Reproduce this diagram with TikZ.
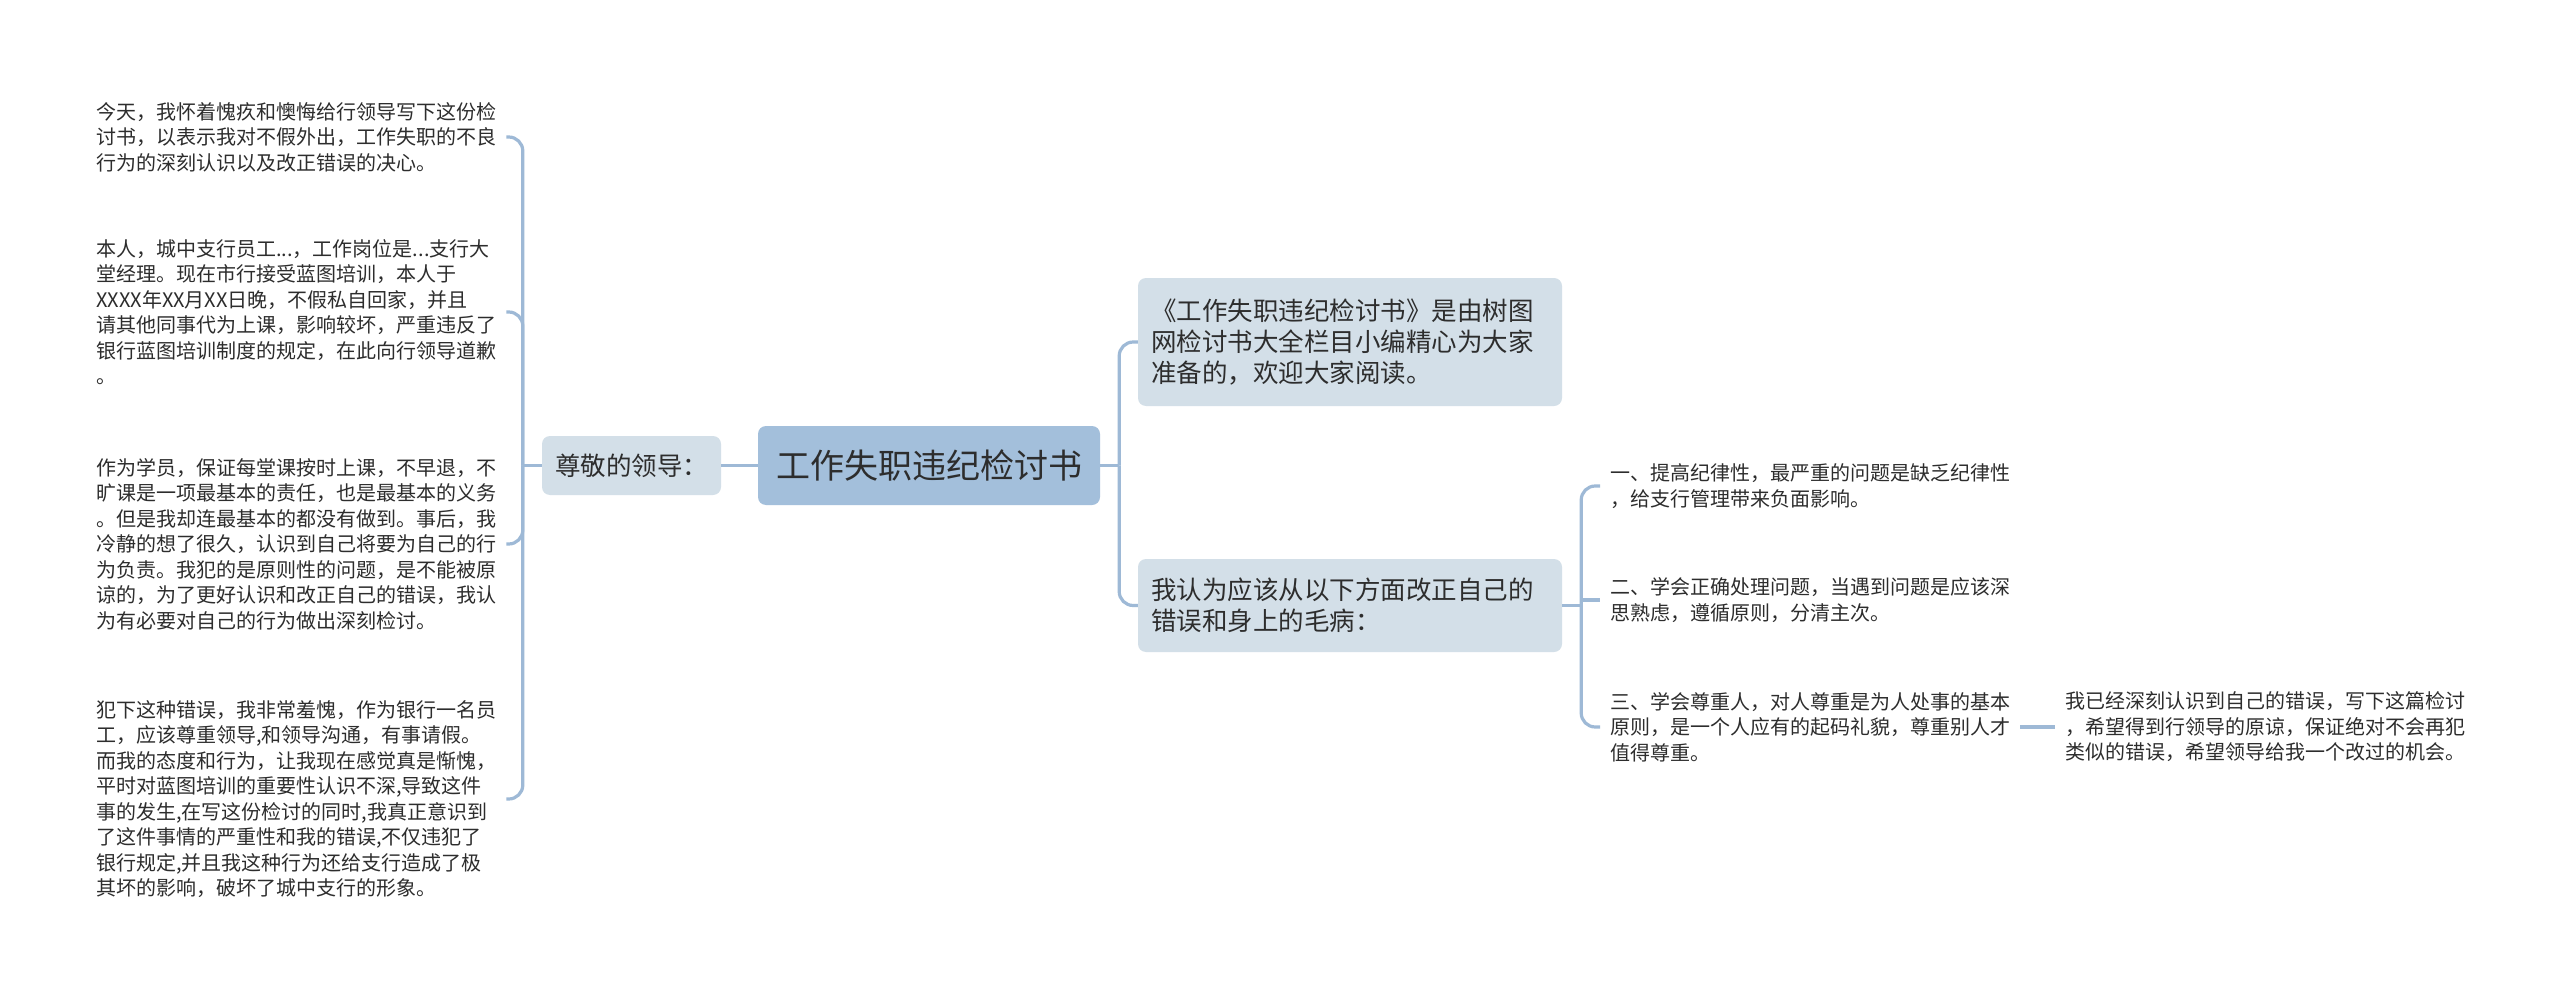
\documentclass[tikz,border=0pt]{standalone}
\usepackage{fontspec}
\setmainfont{Noto Sans CJK SC}
\definecolor{lc}{RGB}{158,185,214}
\definecolor{rootc}{RGB}{163,191,219}
\definecolor{secc}{RGB}{211,223,232}
\definecolor{tc}{RGB}{45,45,45}
\begin{document}
\begin{tikzpicture}[x=1pt,y=-1pt,
  conn/.style={draw=lc, line width=3.2pt},
  rc/.style={rounded corners=14pt},
  leaf/.style={text width=400pt, inner xsep=10pt, inner ysep=0pt, align=left,
    font=\fontsize{20}{25.5}\selectfont, text=tc},
  sec/.style={fill=secc, rounded corners=8pt, align=left,
    font=\fontsize{25.5}{31}\selectfont, text=tc, inner xsep=13pt},
  rootn/.style={fill=rootc, rounded corners=8pt,
    font=\fontsize{34}{40}\selectfont, text=tc}]
\useasboundingbox (0,0) rectangle (2560,995);
\fill[white] (0,0) rectangle (2560,995);

% central and secondary nodes
\node[rootn, minimum width=342pt, minimum height=79pt] (root) at (929,465.5) {工作失职违纪检讨书};
\node[sec, text width=153pt, minimum height=59pt] (zun) at (631.5,465.5) {尊敬的领导：};
\node[sec, text width=398pt, minimum height=128pt] (n1) at (1350,342)
  {《工作失职违纪检讨书》是由树图\\网检讨书大全栏目小编精心为大家\\准备的，欢迎大家阅读。};
\node[sec, text width=398pt, minimum height=93pt] (n2) at (1350,605.5)
  {我认为应该从以下方面改正自己的\\错误和身上的毛病：};

% left leaves
\node[leaf, anchor=west] (L1) at (86,137)
  {今天，我怀着愧疚和懊悔给行领导写下这份检\\讨书，以表示我对不假外出，工作失职的不良\\行为的深刻认识以及改正错误的决心。};
\node[leaf, anchor=west] (L2) at (86,312)
  {本人，城中支行员工...，工作岗位是...支行大\\堂经理。现在市行接受蓝图培训，本人于\\XXXX年XX月XX日晚，不假私自回家，并且\\请其他同事代为上课，影响较坏，严重违反了\\银行蓝图培训制度的规定，在此向行领导道歉\\。};
\node[leaf, anchor=west] (L3) at (86,544)
  {作为学员，保证每堂课按时上课，不早退，不\\旷课是一项最基本的责任，也是最基本的义务\\。但是我却连最基本的都没有做到。事后，我\\冷静的想了很久，认识到自己将要为自己的行\\为负责。我犯的是原则性的问题，是不能被原\\谅的，为了更好认识和改正自己的错误，我认\\为有必要对自己的行为做出深刻检讨。};
\node[leaf, anchor=west] (L4) at (86,799)
  {犯下这种错误，我非常羞愧，作为银行一名员\\工，应该尊重领导,和领导沟通，有事请假。\\而我的态度和行为，让我现在感觉真是惭愧，\\平时对蓝图培训的重要性认识不深,导致这件\\事的发生,在写这份检讨的同时,我真正意识到\\了这件事情的严重性和我的错误,不仅违犯了\\银行规定,并且我这种行为还给支行造成了极\\其坏的影响，破坏了城中支行的形象。};

% right leaves
\node[leaf, anchor=west] (R1) at (1600,486)
  {一、提高纪律性，最严重的问题是缺乏纪律性\\，给支行管理带来负面影响。};
\node[leaf, anchor=west] (R2) at (1600,600)
  {二、学会正确处理问题，当遇到问题是应该深\\思熟虑，遵循原则，分清主次。};
\node[leaf, anchor=west] (R3) at (1600,727)
  {三、学会尊重人，对人尊重是为人处事的基本\\原则，是一个人应有的起码礼貌，尊重别人才\\值得尊重。};
\node[leaf, anchor=west] (F) at (2055,727)
  {我已经深刻认识到自己的错误，写下这篇检讨\\，希望得到行领导的原谅，保证绝对不会再犯\\类似的错误，希望领导给我一个改过的机会。};

% connectors
\draw[conn] (root.west) -- (zun.west -| zun.east);
\draw[conn] (zun.west) -- ++(-19,0) coordinate (jl);
\draw[conn,rc] (jl) |- (L1.east);
\draw[conn,rc] (jl) |- (L2.east);
\draw[conn,rc] (jl) |- (L3.east);
\draw[conn,rc] (jl) |- (L4.east);

\draw[conn] (root.east) -- ++(19,0) coordinate (jr);
\draw[conn,rc] (jr) |- (n1.west);
\draw[conn,rc] (jr) |- (n2.west);

\draw[conn] (n2.east) -- ++(19,0) coordinate (jr2);
\draw[conn,rc] (jr2) |- (R1.west);
\draw[conn] (jr2) |- (R2.west);
\draw[conn,rc] (jr2) |- (R3.west);

\draw[conn] (R3.east) -- (F.west);
\end{tikzpicture}
\end{document}
